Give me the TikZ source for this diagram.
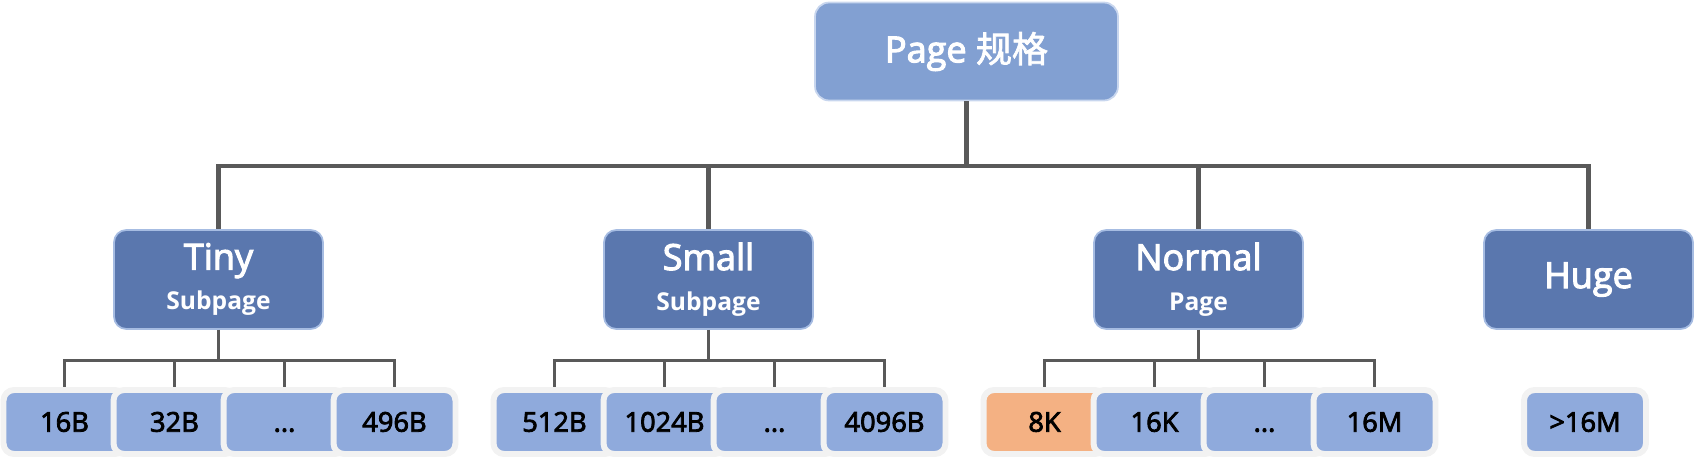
\documentclass[tikz,border=0pt]{standalone}
\usepackage{fontspec}
\setmainfont{Open Sans}[BoldFont={Open Sans}, BoldFeatures={FakeBold=3}]
\newfontfamily\heavyfont{Open Sans}
\newfontfamily\cjkfont{Noto Sans CJK SC}[BoldFont={Noto Sans CJK SC}, BoldFeatures={FakeBold=2}]
\usetikzlibrary{positioning}
\definecolor{rootblue}{RGB}{130,160,210}
\definecolor{rootedge}{RGB}{200,214,238}
\definecolor{midblue}{RGB}{90,119,174}
\definecolor{midedge}{RGB}{166,188,226}
\definecolor{leafblue}{RGB}{143,170,220}
\definecolor{leafedge}{RGB}{242,242,242}
\definecolor{leaforange}{RGB}{244,177,131}
\definecolor{linegray}{RGB}{89,89,89}
\tikzset{
  rootbox/.style={rectangle, rounded corners=8pt, draw=rootedge, line width=1pt,
                  fill=rootblue, text=white, minimum width=6.06cm, minimum height=1.96cm,
                  font=\fontsize{20.5}{22}\selectfont\bfseries},
  sizebox/.style={rectangle, rounded corners=7pt, draw=midedge, line width=1pt,
                  fill=midblue, text=white, align=center, minimum width=4.18cm,
                  minimum height=1.98cm, font=\fontsize{20.5}{22}\selectfont\bfseries},
  leaf/.style={rectangle, rounded corners=6pt, draw=leafedge, line width=3.4pt,
               fill=leafblue, minimum width=2.44cm, minimum height=1.28cm,
               text height=11pt, text depth=0pt,
               font=\fontsize{15.5}{17}\selectfont\bfseries},
  mainline/.style={draw=linegray, line width=2.8pt},
  subline/.style={draw=linegray, line width=1.7pt},
}
\newcommand{\subtag}[1]{{\heavyfont\bfseries\fontsize{14}{15}\selectfont #1}}

\begin{document}
\begin{tikzpicture}[x=0.02cm, y=-0.02cm]
  \useasboundingbox (0,0) rectangle (1694,463);

  % Root
  \node[rootbox] (root) at (966.5,51.5) {Page {\cjkfont\bfseries 规格}};

  % Size classes
  \node[sizebox] (tiny)   at (218.5,279.5) {Tiny\\[1pt]\subtag{Subpage}};
  \node[sizebox] (small)  at (708.5,279.5) {Small\\[1pt]\subtag{Subpage}};
  \node[sizebox] (normal) at (1198.5,279.5) {Normal\\[1pt]\subtag{Page}};
  \node[sizebox] (huge)   at (1588.5,279.5) {Huge};

  % Root to size classes
  \coordinate (hub) at (966.5,166);
  \draw[mainline] (root.south) -- (hub) -| (tiny.north);
  \draw[mainline] (hub) -| (small.north);
  \draw[mainline] (hub) -| (normal.north);
  \draw[mainline] (hub) -| (huge.north);

  % Size class to page sizes
  \coordinate (tinyhub)   at (218.5,360.5);
  \coordinate (smallhub)  at (708.5,360.5);
  \coordinate (normalhub) at (1198.5,360.5);
  \draw[subline] (tiny.south) -- (tinyhub);
  \draw[subline] (small.south) -- (smallhub);
  \draw[subline] (normal.south) -- (normalhub);
  \foreach \i/\dx in {1/-154, 2/-44, 3/66, 4/176} {
    \draw[subline] (tinyhub) -| ++(\dx,29.5);
    \draw[subline] (smallhub) -| ++(\dx,29.5);
    \draw[subline] (normalhub) -| ++(\dx,29.5);
  }

  % Tiny leaves
  \node[leaf] (tiny1) at (64.5,422) {16B};
  \node[leaf] (tiny2) at (174.5,422) {32B};
  \node[leaf] (tiny3) at (284.5,422) {...};
  \node[leaf] (tiny4) at (394.5,422) {496B};

  % Small leaves
  \node[leaf] (small1) at (554.5,422) {512B};
  \node[leaf] (small2) at (664.5,422) {1024B};
  \node[leaf] (small3) at (774.5,422) {...};
  \node[leaf] (small4) at (884.5,422) {4096B};

  % Normal leaves
  \node[leaf, fill=leaforange] (normal1) at (1044.5,422) {8K};
  \node[leaf] (normal2) at (1154.5,422) {16K};
  \node[leaf] (normal3) at (1264.5,422) {...};
  \node[leaf] (normal4) at (1374.5,422) {16M};

  % Huge leaf
  \node[leaf] (huge1) at (1585,422) {>16M};
\end{tikzpicture}
\end{document}
